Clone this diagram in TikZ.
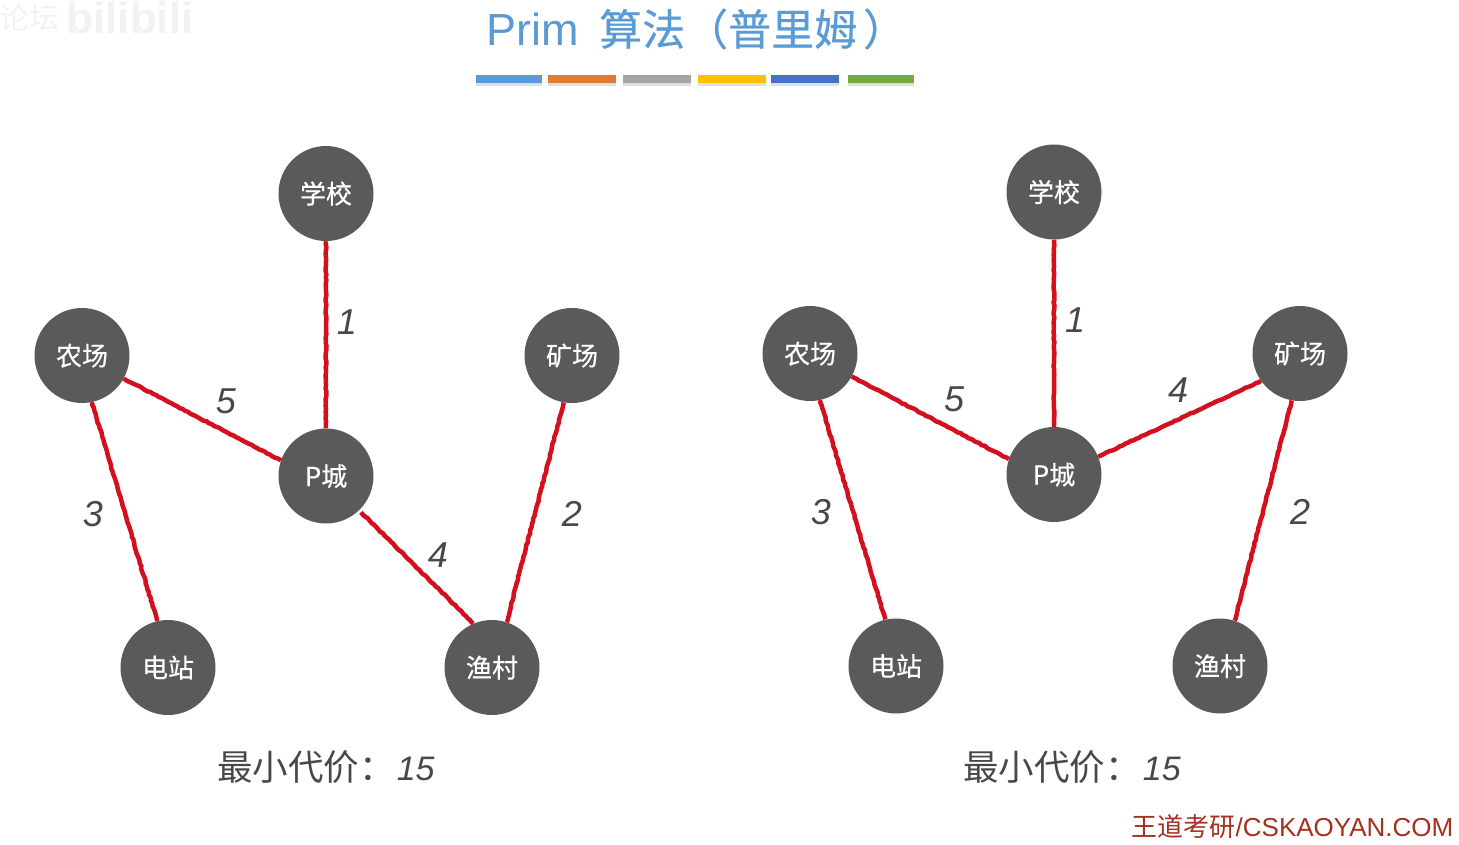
\documentclass[tikz,border=0pt]{standalone}
\usepackage{fontspec}
\setmainfont{Liberation Sans}
\newfontfamily\cjk{Noto Sans CJK SC}
\newfontfamily\cjkmid[FakeBold=0.5]{Noto Sans CJK SC}
\usetikzlibrary{shadows,decorations.pathmorphing}
\definecolor{nodegray}{HTML}{5A5A5A}
\definecolor{edgered}{HTML}{D2101E}
\definecolor{titleblue}{HTML}{5B9BD5}
\definecolor{labelgray}{HTML}{484848}
\definecolor{markred}{HTML}{A5301F}
\definecolor{faintgray}{HTML}{F2F2F2}
\definecolor{barorange}{HTML}{E07B35}
\definecolor{bargray}{HTML}{A5A5A5}
\definecolor{baryellow}{HTML}{FFC000}
\definecolor{barblue}{HTML}{4472C4}
\definecolor{bargreen}{HTML}{70AD47}
\tikzset{
  city/.style={circle,fill=nodegray,text=white,minimum size=95pt,inner sep=0pt,text height=20pt,text depth=0pt,font=\fontsize{26}{26}\selectfont\cjkmid},
  road/.style={edgered,line width=4.5pt,decorate,decoration={random steps,segment length=3pt,amplitude=.5pt}},
  weight/.style={text=labelgray,font=\fontsize{36}{36}\selectfont\itshape},
  cost/.style={text=labelgray,font=\fontsize{34}{34}\selectfont},
  bar/.style={minimum height=8pt,inner sep=0pt,drop shadow={shadow xshift=0pt,shadow yshift=-3pt,fill=black!25}},
}
\begin{document}
\begin{tikzpicture}[x=1pt,y=-1pt]
\useasboundingbox (0,0) rectangle (1459,844);

\node (mark1) at (29,18) [text=faintgray,font=\fontsize{30}{30}\selectfont\cjk] {论坛};
\node (mark2) at (130,18) [text=faintgray,font=\fontsize{44}{44}\selectfont\bfseries] {bilibili};

\node (title) at (486,29) [anchor=west,inner sep=0pt,text=titleblue,font=\fontsize{45}{45}\selectfont] {Prim\hspace{8pt} {\fontsize{43}{43}\selectfont\cjkmid 算法（普里姆\hspace{6pt}）}};

\node (bar1) at (509,79) [bar,minimum width=66pt,fill=titleblue] {};
\node (bar2) at (582,79) [bar,minimum width=68pt,fill=barorange] {};
\node (bar3) at (657,79) [bar,minimum width=68pt,fill=bargray] {};
\node (bar4) at (732,79) [bar,minimum width=68pt,fill=baryellow] {};
\node (bar5) at (805,79) [bar,minimum width=68pt,fill=barblue] {};
\node (bar6) at (881,79) [bar,minimum width=66pt,fill=bargreen] {};

\node (schoolA) at (326,193.5) [city] {学校};
\node (farmA) at (82,355.5) [city] {农场};
\node (mineA) at (572,355.5) [city] {矿场};
\node (cityA) at (326,476) [city] {P城};
\node (powerA) at (168,667.5) [city] {电站};
\node (fishA) at (492,667.5) [city] {渔村};

\draw[road] (schoolA) to (cityA);
\draw[road] (farmA.-29) to (cityA.161);
\draw[road] (farmA.-78) to (powerA.103);
\draw[road] (mineA.260) to (fishA.72);
\draw[road,shorten <=6pt] (cityA.-46) to (fishA.113);

\node (w1A) at (347,322) [weight] {1};
\node (w5A) at (226,401) [weight] {5};
\node (w3A) at (93,514) [weight] {3};
\node (w2A) at (572,514) [weight] {2};
\node (w4A) at (438,555) [weight] {4};
\node (costA) at (326,767) [cost] {{\fontsize{35.5}{36}\selectfont\cjk 最小代价：}\hspace{2pt}{\itshape 15}};

\node (schoolB) at (1054,192) [city] {学校};
\node (farmB) at (810,353.5) [city] {农场};
\node (mineB) at (1300,353.5) [city] {矿场};
\node (cityB) at (1054,474.5) [city] {P城};
\node (powerB) at (896,666) [city] {电站};
\node (fishB) at (1220,666) [city] {渔村};

\draw[road] (schoolB) to (cityB);
\draw[road] (farmB.-29) to (cityB.161);
\draw[road] (farmB.-78) to (powerB.103);
\draw[road] (mineB.260) to (fishB.72);
\draw[road] (cityB.22) to (mineB.215);

\node (w1B) at (1075,320) [weight] {1};
\node (w5B) at (954,399) [weight] {5};
\node (w3B) at (821,512) [weight] {3};
\node (w2B) at (1300,512) [weight] {2};
\node (w4B) at (1178,390) [weight] {4};
\node (costB) at (1072,767) [cost] {{\fontsize{35.5}{36}\selectfont\cjk 最小代价：}\hspace{2pt}{\itshape 15}};

\node (site) at (1292.5,827) [text=markred,font=\fontsize{26}{26}\selectfont] {{\cjk 王道考研}/CSKAOYAN.COM};
\end{tikzpicture}
\end{document}
